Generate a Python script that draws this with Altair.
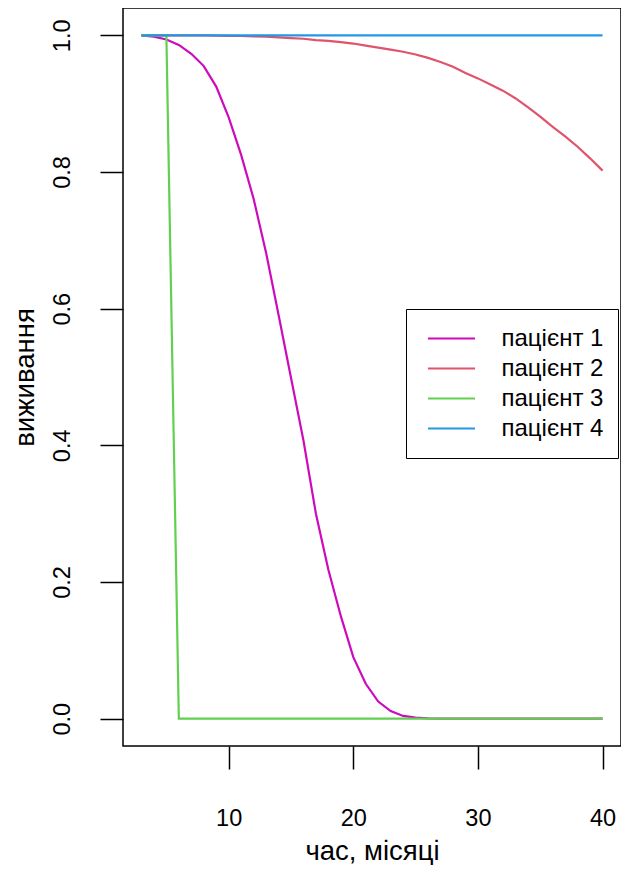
import altair as alt
import pandas as pd

# time points (months)
t = list(range(3, 41))

patient1 = [1.000, 0.998, 0.994, 0.986, 0.973, 0.955, 0.925, 0.880, 0.825, 0.761,
            0.682, 0.591, 0.499, 0.407, 0.300, 0.218, 0.150, 0.090, 0.051, 0.025,
            0.011, 0.004, 0.0015, 0.0005, 0.0002, 0.0, 0.0, 0.0, 0.0, 0.0,
            0.0, 0.0, 0.0, 0.0, 0.0, 0.0, 0.0, 0.0]
patient2 = [1.0, 1.0, 1.0, 1.0, 0.9999, 0.9998, 0.9996, 0.9993, 0.999, 0.9985,
            0.998, 0.997, 0.996, 0.995, 0.993, 0.992, 0.990, 0.988, 0.985, 0.982,
            0.979, 0.976, 0.972, 0.967, 0.961, 0.954, 0.945, 0.937, 0.928, 0.919,
            0.908, 0.895, 0.881, 0.866, 0.852, 0.837, 0.820, 0.802]
patient3 = [1.0, 1.0, 1.0] + [0.0] * 35
patient4 = [1.0] * 38

names = ["пацієнт 1", "пацієнт 2", "пацієнт 3", "пацієнт 4"]
colors = ["#CD0BBC", "#DF536B", "#61D04F", "#2297E6"]
series = [patient1, patient2, patient3, patient4]

rows = []
for i, (n, s) in enumerate(zip(names, series)):
    for tt, v in zip(t, s):
        rows.append({"t": tt, "s": v, "patient": n, "order": i})
df = pd.DataFrame(rows)

FONT = "Liberation Sans"

chart = alt.Chart(df).mark_line(strokeWidth=2.2, clip=True).encode(
    x=alt.X("t:Q",
            scale=alt.Scale(domain=[1.52, 41.48], nice=False, zero=False),
            axis=alt.Axis(values=[10, 20, 30, 40], grid=False, domain=False,
                          tickSize=23, tickWidth=1.5, tickColor="black",
                          labelFont=FONT, labelFontSize=23.5, labelColor="black",
                          labelBaseline="alphabetic", labelPadding=56,
                          labelFlush=False,
                          title="час, місяці", titleFont=FONT, titleFontSize=27.5,
                          titleFontWeight="normal", titleColor="black",
                          titleBaseline="alphabetic", titleY=113)),
    y=alt.Y("s:Q",
            scale=alt.Scale(domain=[-0.04, 1.04], nice=False, zero=False),
            axis=alt.Axis(values=[0, 0.2, 0.4, 0.6, 0.8, 1.0], format=".1f",
                          grid=False, domain=False,
                          tickSize=23, tickWidth=1.5, tickColor="black",
                          labelFont=FONT, labelFontSize=23.5, labelColor="black",
                          labelAngle=270, labelAlign="center",
                          labelBaseline="alphabetic", labelPadding=31,
                          labelFlush=False,
                          title="виживання", titleFont=FONT, titleFontSize=27.5,
                          titleFontWeight="normal", titleColor="black",
                          titleAngle=270, titleAlign="center",
                          titleBaseline="alphabetic", titleX=-89.5, titleY=369)),
    color=alt.Color("patient:N",
                    scale=alt.Scale(domain=names, range=colors),
                    legend=alt.Legend(title=None, orient="none",
                                      legendX=283, legendY=301,
                                      symbolType="stroke", symbolSize=2209,
                                      symbolStrokeWidth=2, clipHeight=30,
                                      rowPadding=0, padding=14.5,
                                      symbolOffset=6.5, labelOffset=25.5,
                                      labelFont=FONT, labelFontSize=24,
                                      labelColor="black", labelLimit=300,
                                      strokeColor="black", fillColor="white")),
    order=alt.Order("order:Q"),
).properties(
    width=498, height=738,
    autosize=alt.AutoSizeParams(type="none"),
    padding={"left": 115, "top": 0, "right": 0, "bottom": 119},
).configure(
    background="white"
).configure_view(
    stroke="black", strokeWidth=1.5
)

chart.save("out.html", embed_options={"renderer": "svg", "actions": False})
